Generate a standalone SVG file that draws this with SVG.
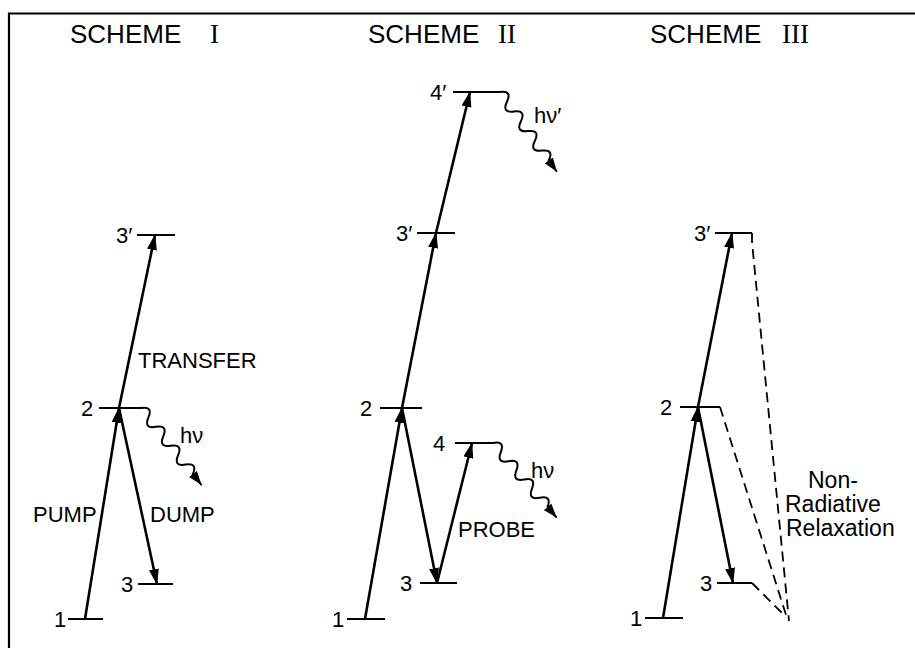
<svg xmlns="http://www.w3.org/2000/svg" xmlns:xlink="http://www.w3.org/1999/xlink" width="915" height="648" viewBox="0 0 915 648">
<defs>
<style>
.lv{stroke:#000;stroke-width:2;fill:none}
.ar{stroke:#000;stroke-width:2.6;fill:none;marker-end:url(#ah)}
.wv{stroke:#000;stroke-width:2;fill:none;marker-end:url(#wah)}
.ds{stroke:#000;stroke-width:1.8;fill:none;stroke-dasharray:10 6}
text{font-family:"Liberation Sans",Arial,sans-serif;fill:#000}
.num{font-size:22px}
.lab{font-size:22px}
.nr{font-size:23px}
.ttl{font-size:26px}
.rom{font-family:"Liberation Serif","Times New Roman",serif;font-size:27px}
</style>
<marker id="ah" markerUnits="userSpaceOnUse" markerWidth="16" markerHeight="10" refX="15" refY="5" orient="auto" viewBox="0 0 16 10">
<path d="M0,0 L16,5 L0,10 z" fill="#000"/>
</marker>
<marker id="wah" markerUnits="userSpaceOnUse" markerWidth="14" markerHeight="10" refX="14" refY="5" orient="auto" viewBox="0 0 14 10">
<path d="M0,0 L14,5 L0,10 z" fill="#000"/>
</marker>
<path id="wave" class="wv" d="M0,0 q6,-11 12,0 t12,0 t12,0 t12,0 t12,0 t12,0 t12,0 L98,0"/>
</defs>

<g id="frame">
<path d="M8,13.5 H915" stroke="#000" stroke-width="2.2" fill="none"/>
<path d="M9,13 V648" stroke="#000" stroke-width="2.2" fill="none"/>
</g>

<g id="titles">
<text class="ttl" x="70" y="43">SCHEME</text><text class="rom" x="210" y="43">I</text>
<text class="ttl" x="368" y="43">SCHEME</text><text class="rom" x="498" y="43">II</text>
<text class="ttl" x="650" y="43">SCHEME</text><text class="rom" x="782" y="43">III</text>
</g>

<!-- Scheme I levels -->
<g id="s1-l1"><path class="lv" d="M68,619 H103"/><text class="num" x="54" y="627">1</text></g>
<g id="s1-l2"><path class="lv" d="M99,408 H141"/><text class="num" x="81" y="416">2</text></g>
<g id="s1-l3"><path class="lv" d="M138,584 H173"/><text class="num" x="121" y="592">3</text></g>
<g id="s1-l3p"><path class="lv" d="M137,235 H175"/><text class="num" x="116" y="243">3′</text></g>

<!-- Scheme II levels -->
<g id="s2-l1"><path class="lv" d="M347,619 H385"/><text class="num" x="332" y="627">1</text></g>
<g id="s2-l2"><path class="lv" d="M380,408 H422"/><text class="num" x="360" y="416">2</text></g>
<g id="s2-l3"><path class="lv" d="M420,583 H457"/><text class="num" x="400" y="591">3</text></g>
<g id="s2-l4"><path class="lv" d="M455,443 H493"/><text class="num" x="433" y="451">4</text></g>
<g id="s2-l3p"><path class="lv" d="M417,233 H455"/><text class="num" x="396" y="241">3′</text></g>
<g id="s2-l4p"><path class="lv" d="M453,92 H500"/><text class="num" x="430" y="100">4′</text></g>

<!-- Scheme III levels -->
<g id="s3-l1"><path class="lv" d="M645,618 H683"/><text class="num" x="630" y="626">1</text></g>
<g id="s3-l2"><path class="lv" d="M680,407 H720"/><text class="num" x="660" y="415">2</text></g>
<g id="s3-l3"><path class="lv" d="M717,583 H752"/><text class="num" x="700" y="591">3</text></g>
<g id="s3-l3p"><path class="lv" d="M715,233 H752"/><text class="num" x="694" y="241">3′</text></g>

<g id="connectors">
<!-- Scheme I -->
<path class="ar" d="M85,619 L119,408"/>
<path class="ar" d="M119,408 L155,235"/>
<path class="ar" d="M119,408 L157,584"/>
<use xlink:href="#wave" href="#wave" transform="translate(141,408) rotate(51.8)"/>
<!-- Scheme II -->
<path class="ar" d="M365,619 L402,408"/>
<path class="ar" d="M402,408 L436,233"/>
<path class="ar" d="M436,233 L470,92"/>
<path class="ar" d="M402,408 L437,583"/>
<path class="ar" d="M437,583 L472,443"/>
<use xlink:href="#wave" href="#wave" transform="translate(493,443) rotate(49.5)"/>
<use xlink:href="#wave" href="#wave" transform="translate(500,92) rotate(54.5)"/>
<!-- Scheme III -->
<path class="ar" d="M663,618 L698,407"/>
<path class="ar" d="M698,407 L732,233"/>
<path class="ar" d="M698,407 L733,583"/>
<path class="ds" d="M752,233 L752,242 L789,621"/>
<path class="ds" d="M720,407 L787,618"/>
<path class="ds" d="M752,583 L757,588 L784,615"/>
</g>

<g id="labels">
<text class="lab" x="138" y="368">TRANSFER</text>
<text class="lab" x="33" y="522">PUMP</text>
<text class="lab" x="150" y="522">DUMP</text>
<text class="lab" x="180" y="443">hν</text>
<text class="lab" x="458" y="537">PROBE</text>
<text class="lab" x="531" y="478">hν</text>
<text class="lab" x="534" y="123">hν′</text>
<text class="nr" x="808" y="488">Non-</text>
<text class="nr" x="785" y="512">Radiative</text>
<text class="nr" x="786" y="536">Relaxation</text>
</g>
</svg>
